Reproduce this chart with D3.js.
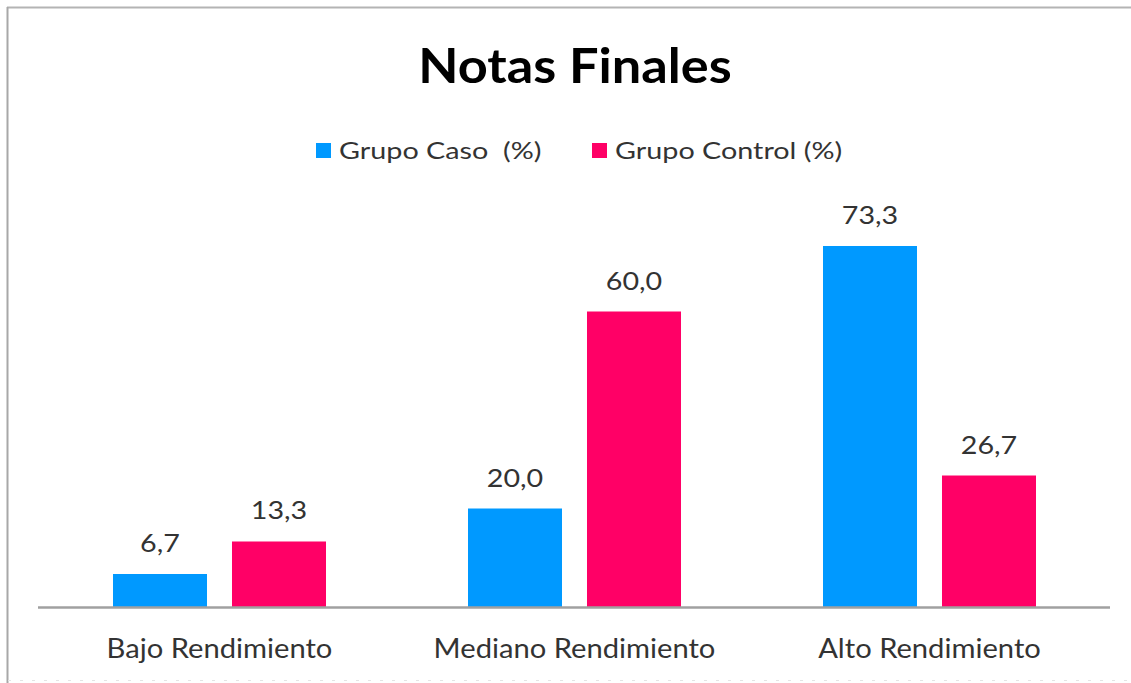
<!DOCTYPE html>
<html><head><meta charset="utf-8">
<script src="https://cdn.jsdelivr.net/npm/d3@7/dist/d3.min.js"></script>
<style>
html,body{margin:0;padding:0;background:#fff;}
svg{display:block;font-family:Lato,"Open Sans",sans-serif;}
</style></head>
<body>
<svg id="chart" width="1131" height="683"></svg>
<script>
const categories = ["Bajo Rendimiento", "Mediano Rendimiento", "Alto Rendimiento"];
const seriesNames = ["Grupo Caso  (%)", "Grupo Control (%)"];
const casoValues = [6.7, 20.0, 73.3];
const controlValues = [13.3, 60.0, 26.7];
const colors = ["#0099ff", "#ff0066"];
const title = "Notas Finales";

const svg = d3.select("#chart");
const W = 1131, H = 683;

function stretch(sel, k){
  sel.each(function(){
    const w = this.getComputedTextLength();
    d3.select(this).attr("textLength", w*k).attr("lengthAdjust","spacingAndGlyphs");
  });
}

// frame
svg.append("rect").attr("x",0).attr("y",0).attr("width",W).attr("height",H).attr("fill","#fff");
svg.append("line").attr("x1",7).attr("x2",W).attr("y1",7.5).attr("y2",7.5).attr("stroke","#b4b4b4").attr("stroke-width",2);
svg.append("line").attr("x1",7.5).attr("x2",7.5).attr("y1",7).attr("y2",H).attr("stroke","#a8a8a8").attr("stroke-width",2);
svg.append("line").attr("x1",8).attr("x2",W).attr("y1",680.5).attr("y2",680.5).attr("stroke","#e4e4e4").attr("stroke-width",1).attr("stroke-dasharray","3,9");

const x0 = d3.scaleBand().domain(categories).range([42, 1107]).paddingInner(0.4).paddingOuter(0.2);
const x1 = d3.scaleBand().domain([0,1]).range([0, x0.bandwidth()]).paddingInner(0.21);
const y = d3.scaleLinear().domain([0, 80]).range([607, 213]);

const data = categories.map((c,i)=>({cat:c, vals:[casoValues[i], controlValues[i]]}));

const fmt = v => d3.format(".1f")(v).replace(".", ",");

const groups = svg.selectAll("g.grp").data(data).join("g")
  .attr("class","grp").attr("transform", d=>`translate(${x0(d.cat)},0)`);

groups.selectAll("rect").data(d=>d.vals.map((v,k)=>({v,k}))).join("rect")
  .attr("x", d=>x1(d.k)).attr("width", x1.bandwidth())
  .attr("y", d=>y(d.v)).attr("height", d=>y(0)-y(d.v))
  .attr("fill", d=>colors[d.k]);

const vals = groups.selectAll("text.val").data(d=>d.vals.map((v,k)=>({v,k}))).join("text")
  .attr("class","val")
  .attr("x", d=>x1(d.k)+x1.bandwidth()/2).attr("y", d=>y(d.v)-22)
  .attr("text-anchor","middle").attr("font-size",24.5).attr("fill","#333")
  .text(d=>fmt(d.v));
stretch(vals, 1.17);

// axis
const xAxis = svg.append("g").attr("transform",`translate(0,${y(0)})`)
  .call(d3.axisBottom(x0).tickSize(0).tickPadding(0));
xAxis.select(".domain").attr("stroke","#a0a0a0").attr("stroke-width",2.5)
  .attr("d", "M38,0.5H1110");
const ticks = xAxis.selectAll(".tick text").attr("font-size",27).attr("fill","#333")
  .attr("font-family","Lato,sans-serif").attr("dy",0).attr("y",51);
stretch(ticks, 1.08);

// title
const t = svg.append("text").attr("x",575).attr("y",83).attr("text-anchor","middle")
  .attr("font-size",48).attr("font-weight","bold").attr("fill","#000").text(title);
stretch(t, 1.09);

// legend
const legendX = [316, 592];
const leg = svg.selectAll("g.leg").data(seriesNames).join("g").attr("class","leg")
  .attr("transform",(d,i)=>`translate(${legendX[i]},143)`);
leg.append("rect").attr("width",15).attr("height",15).attr("fill",(d,i)=>colors[i]);
const lt = leg.append("text").attr("x",23).attr("y",15.5).attr("font-size",23).attr("fill","#333")
  .attr("xml:space","preserve").style("white-space","pre").text(d=>d);
stretch(lt, 1.25);
</script>
</body></html>
